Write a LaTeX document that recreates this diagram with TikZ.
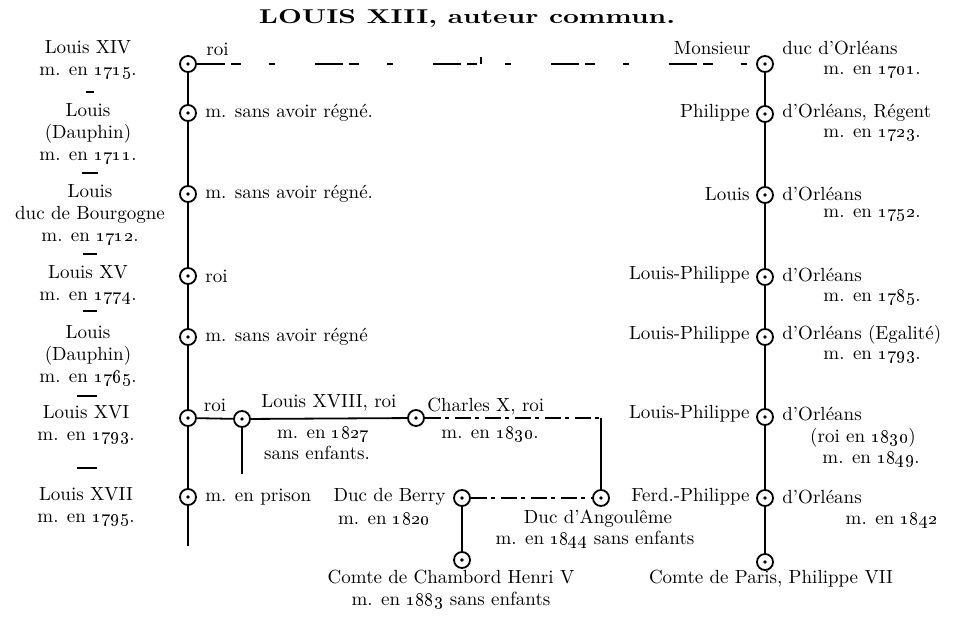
\documentclass[tikz,border=0pt]{standalone}
\usepackage{graphicx}
\usetikzlibrary{calc}
\newcommand{\yr}[1]{\oldstylenums{#1}}

\begin{document}
\begin{tikzpicture}[x=0.5pt,y=-0.5pt,
		pt/.style={circle,draw,line width=0.9pt,minimum size=8pt,inner sep=0pt,
			path picture={\fill (path picture bounding box.center) circle (0.9pt);}},
		txt/.style={inner sep=0pt,font=\fontsize{9.5}{11}\selectfont},
		lien/.style={line width=0.9pt},
		pointille/.style={line width=0.9pt,dash pattern=on 8pt off 2pt on 2pt off 3pt},
		efface/.style={line width=0.6pt,dash pattern=on 14pt off 3pt on 5pt off 14pt on 3pt off 20pt},
		filet/.style={line width=0.8pt}]

  \useasboundingbox (0,0) rectangle (960,623);

  \node[txt] (titre) at (467,18) {\scalebox{1.38}[1]{\bfseries\fontsize{10}{12}\selectfont LOUIS XIII, auteur commun.}};

  % branche aînée
  \node[txt,align=center] (louisxiv) at (88,60) {Louis XIV\\m. en \yr{1715}.};
  \node[txt,align=center] (dauphina) at (88,134) {Louis\\(Dauphin)\\m. en \yr{1711}.};
  \node[txt,align=center] (bourgogne) at (90,215) {Louis\\duc de Bourgogne\\m. en \yr{1712}.};
  \node[txt,align=center] (louisxv) at (88,285) {Louis XV\\m. en \yr{1774}.};
  \node[txt,align=center] (dauphinb) at (88,356) {Louis\\(Dauphin)\\m. en \yr{1765}.};
  \node[txt,align=center] (louisxvi) at (86,425) {Louis XVI\\m. en \yr{1793}.};
  \node[txt,align=center] (louisxvii) at (86,507) {Louis XVII\\m. en \yr{1795}.};
  \draw[filet] (86,92) -- (94,92);
  \draw[filet] (82,173) -- (98,173);
  \draw[filet] (83,254) -- (97,254);
  \draw[filet] (83,311) -- (97,311);
  \draw[filet] (77,396) -- (97,396);
  \draw[filet] (77,468) -- (97,468);

  \node[pt] (lxiv) at (188,64) {};
  \node[pt] (ldauphin) at (188,113) {};
  \node[pt] (lbourg) at (188,194) {};
  \node[pt] (lxv) at (188,276) {};
  \node[pt] (ldauphinb) at (188,337) {};
  \node[pt] (lxvi) at (188,418) {};
  \node[pt] (lxvii) at (188,497) {};
  \coordinate (lfin) at (188,546);
  \draw[lien] (lxiv) -- (ldauphin) -- (lbourg) -- (lxv) -- (ldauphinb) -- (lxvi) -- (lxvii) -- (lfin);

  \node[txt,anchor=base west] at (206,55) {roi};
  \node[txt,anchor=west] at (205,113) {m. sans avoir régné.};
  \node[txt,anchor=west] at (205,194) {m. sans avoir régné.};
  \node[txt,anchor=west] at (205,276) {roi};
  \node[txt,anchor=west] at (205,337) {m. sans avoir régné};
  \node[txt,anchor=west] at (205,497) {m. en prison};

  % Louis XVIII, Charles X
  \node[pt] (lxviii) at (242,419) {};
  \node[pt] (cx) at (416,418) {};
  \coordinate (dfin) at (242,474);
  \coordinate (coin) at (601,418);
  \draw[lien] (lxvi) --node[txt,above=3pt]{roi} (lxviii);
  \draw[lien] (lxviii) --node[txt,above=3pt]{Louis XVIII, roi} (cx);
  \draw[lien] (lxviii) -- (dfin);
  \node[txt] at (323,434) {m. en \yr{1827}};
  \node[txt] at (317,453) {sans enfants.};
  \node[txt,anchor=west] at (427,407) {Charles X, roi};
  \node[txt] at (490,434) {m. en \yr{1830}.};
  \draw[pointille] (cx) -- (coin);

  % Berry, Angoulême, Chambord
  \node[pt] (berry) at (462,498) {};
  \node[pt] (angoul) at (601,498) {};
  \node[pt] (chambord) at (462,560) {};
  \draw[lien] (coin) -- (angoul);
  \draw[pointille] (berry) -- (angoul);
  \draw[lien] (berry) -- (chambord);
  \node[txt,anchor=east] at (446,497) {Duc de Berry};
  \node[txt] at (384,519) {m. en \yr{1820}};
  \node[txt] at (598,519) {Duc d'Angoulême};
  \node[txt] at (595,540) {m. en \yr{1844} sans enfants};
  \node[txt,align=center] at (451,590) {Comte de Chambord Henri V\\m. en \yr{1883} sans enfants};

  % branche d'Orléans
  \node[pt] (rmons) at (765,64) {};
  \node[pt] (rphil) at (765,114) {};
  \node[pt] (rlouis) at (765,195) {};
  \node[pt] (rlpa) at (765,277) {};
  \node[pt] (rlpb) at (765,337) {};
  \node[pt] (rlpc) at (765,417) {};
  \node[pt] (rferd) at (765,498) {};
  \node[pt] (rparis) at (765,562) {};
  \draw[lien] (rmons) -- (rphil) -- (rlouis) -- (rlpa) -- (rlpb) -- (rlpc) -- (rferd) -- (rparis);

  \node[txt,anchor=east] at (751,48) {Monsieur};
  \node[txt,anchor=west] at (782,48) {duc d'Orléans};
  \node[txt,anchor=east] at (921,72) {m. en \yr{1701}.};
  \node[txt,anchor=east] at (750,113) {Philippe};
  \node[txt,anchor=west] at (782,113) {d'Orléans, Régent};
  \node[txt,anchor=east] at (921,135) {m. en \yr{1723}.};
  \node[txt,anchor=east] at (750,194) {Louis};
  \node[txt,anchor=west] at (782,194) {d'Orléans};
  \node[txt,anchor=east] at (921,215) {m. en \yr{1752}.};
  \node[txt,anchor=east] at (750,275) {Louis-Philippe};
  \node[txt,anchor=west] at (782,275) {d'Orléans};
  \node[txt,anchor=east] at (921,297) {m. en \yr{1785}.};
  \node[txt,anchor=east] at (750,335) {Louis-Philippe};
  \node[txt,anchor=west] at (782,335) {d'Orléans (Egalité)};
  \node[txt,anchor=east] at (921,357) {m. en \yr{1793}.};
  \node[txt,anchor=east] at (750,414) {Louis-Philippe};
  \node[txt,anchor=west] at (782,414) {d'Orléans};
  \node[txt] at (863,438) {(roi en \yr{1830})};
  \node[txt,anchor=east] at (920,459) {m. en \yr{1849}.};
  \node[txt,anchor=east] at (750,497) {Ferd.-Philippe};
  \node[txt,anchor=west] at (782,497) {d'Orléans};
  \node[txt,anchor=east] at (938,520) {m. en \yr{1842}};
  \node[txt] at (771,579) {Comte de Paris, Philippe VII};

  % souche commune
  \coordinate (souche) at (481,57);
  \coordinate (jonction) at (481,64);
  \draw[efface] (lxiv) -- (rmons);
  \draw[filet] (souche) -- (jonction);
%  \draw[lien] (titre.south) -- (jonction);

\end{tikzpicture}
\end{document}
